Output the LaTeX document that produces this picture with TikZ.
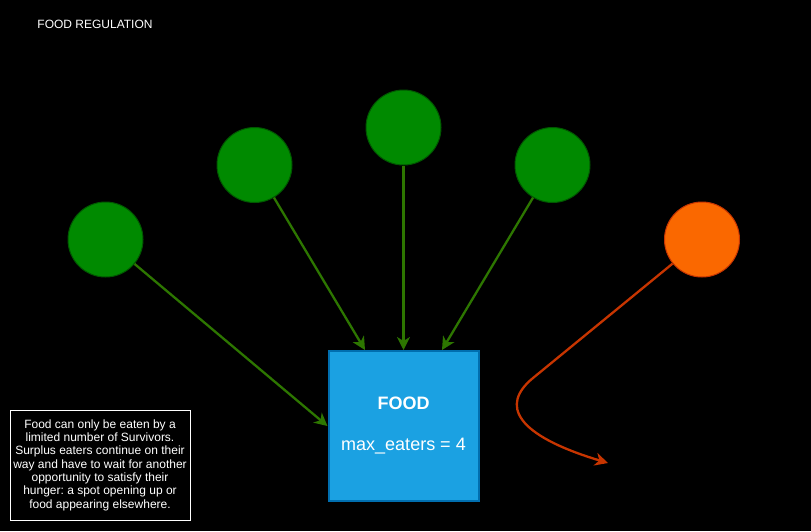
\documentclass[tikz,border=0pt]{standalone}
\usepackage{fontspec}
\setmainfont{Liberation Sans}
\usetikzlibrary{arrows.meta}
\usetikzlibrary{positioning}
\frenchspacing

\definecolor{eaterfill}{HTML}{008A00}
\definecolor{eaterline}{HTML}{005700}
\definecolor{eatarrow}{HTML}{2D7600}
\definecolor{latefill}{HTML}{FA6800}
\definecolor{lateline}{HTML}{C73500}
\definecolor{foodfill}{HTML}{1BA1E2}
\definecolor{foodline}{HTML}{006EAF}

\begin{document}
\begin{tikzpicture}[x=1pt,y=-1pt,
  eater/.style={circle,fill=eaterfill,draw=eaterline,line width=1pt,minimum size=75pt,inner sep=0pt},
  latecomer/.style={circle,fill=latefill,draw=lateline,line width=1pt,minimum size=75pt,inner sep=0pt},
  eat/.style={draw=eatarrow,line width=2.3pt,-{Stealth[length=13pt,width=13pt,inset=4pt]}},
  miss/.style={draw=lateline,line width=2.3pt,-{Stealth[length=13pt,width=13pt,inset=4pt]}}]
\useasboundingbox[fill=black] (0,0) rectangle (811,531);

\node[text=white,font=\fontsize{12}{14}\selectfont] (title) at (95,24) {FOOD REGULATION};

% the food source
\node[rectangle,fill=foodfill,draw=foodline,line width=2pt,minimum width=150pt,minimum height=150pt] (food) at (403.5,426) {};
\node[text=white,font=\fontsize{18}{20}\selectfont\bfseries] (foodname) at (403.5,403) {FOOD};
\node[text=white,font=\fontsize{18}{20}\selectfont] (maxeat) at (403.5,446) {max\_eaters = 4};

% survivors
\node[eater] (g1) at (105.5,239.5) {};
\node[eater] (g2) at (254.5,165) {};
\node[eater] (g3) at (403.5,127.5) {};
\node[eater] (g4) at (552.5,165) {};
\node[latecomer] (o1) at (702,239.5) {};

\draw[eat] (g1) -- (food.west);
\draw[eat] (g2) -- ([xshift=-38.5pt]food.north);
\draw[eat] (g3) -- (food.north);
\draw[eat] (g4) -- ([xshift=38.5pt]food.north);

\coordinate (bend) at (533,378);
\coordinate (away) at (608,463);
\draw[miss] (o1) -- (bend) .. controls (500,405) and (515,435) .. (away);

% note
\node[draw=white,fill=black,line width=0.8pt,text=white,align=center,minimum width=180pt,minimum height=110pt,inner sep=2pt,font=\fontsize{12}{13.3}\selectfont] (note) at (100,465)
{Food can only be eaten by a\\limited number of Survivors.\\Surplus eaters continue on their\\way and have to wait for another\\opportunity to satisfy their\\hunger: a spot opening up or\\food appearing elsewhere.};

\end{tikzpicture}
\end{document}
